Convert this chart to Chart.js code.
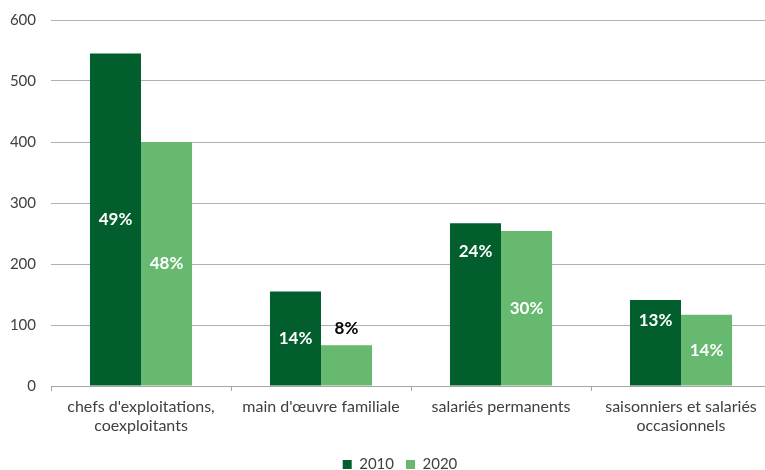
<!DOCTYPE html>
<html>
<head>
<meta charset="utf-8">
<script src="https://cdn.jsdelivr.net/npm/chart.js@4/dist/chart.umd.min.js"></script>
<style>
  html, body { margin: 0; padding: 0; background: #fff; overflow: hidden; }
  #wrap { position: relative; width: 800px; height: 470px; }
</style>
</head>
<body>
<div id="wrap"><canvas id="c"></canvas></div>
<script>
// categories, values and the percent labels shown inside the bars
const categories = [
  ["chefs d'exploitations,", 'coexploitants'],
  "main d'œuvre familiale",
  'salariés permanents',
  ['saisonniers et salariés', 'occasionnels'],
];
const years = ['2010', '2020'];
const values2010 = [545, 155, 267, 141];
const values2020 = [400, 67, 254, 117];
const pct2010 = ['49%', '14%', '24%', '13%'];
const pct2020 = ['48%', '8%', '30%', '14%'];
const yTicks = [0, 100, 200, 300, 400, 500, 600];

const DARK = '#025E2C';
const LIGHT = '#66B96F';
const GRID = '#B0B0B0';
const TEXT = '#404040';
const FONT = "Lato, 'Open Sans', sans-serif";

// percent labels: centred in the bar (with a few hand nudges, as in the original),
// or above it in black when the bar is too short
const barLabels = {
  id: 'barLabels',
  afterDatasetsDraw(chart, args, opts) {
    const { ctx } = chart;
    const sets = [pct2010, pct2020];
    ctx.save();
    ctx.font = 'bold 17px ' + FONT;
    ctx.textAlign = 'center';
    ctx.textBaseline = 'middle';
    chart.data.datasets.forEach((ds, di) => {
      chart.getDatasetMeta(di).data.forEach((bar, i) => {
        const txt = sets[di][i];
        const h = bar.base - bar.y;
        if (h < 50) {
          ctx.fillStyle = '#000';
          ctx.fillText(txt, bar.x, bar.y - 17);
        } else {
          const nudge = (opts.nudge[di] || [])[i] || 0;
          ctx.fillStyle = '#fff';
          ctx.fillText(txt, bar.x, (bar.y + bar.base) / 2 + nudge);
        }
      });
    });
    ctx.restore();
  },
};

new Chart(document.getElementById('c'), {
  type: 'bar',
  data: {
    labels: categories,
    datasets: [
      { label: years[0], data: values2010, backgroundColor: DARK },
      { label: years[1], data: values2020, backgroundColor: LIGHT },
    ],
  },
  options: {
    responsive: true,
    maintainAspectRatio: false,
    animation: false,
    layout: { padding: { top: 20, right: 0, bottom: -12, left: 0 } },
    datasets: { bar: { barPercentage: 1, categoryPercentage: 0.567, borderWidth: 0 } },
    plugins: {
      legend: {
        position: 'bottom',
        labels: {
          color: TEXT,
          font: { family: FONT, size: 15 },
          boxWidth: 9,
          boxHeight: 9,
          padding: 12,
        },
      },
      tooltip: { enabled: false },
      barLabels: { nudge: [[0, 0, -53, -22], [0, 0, 0, 0]] },
    },
    scales: {
      x: {
        grid: { drawOnChartArea: false, drawTicks: true, tickLength: 5, color: '#A6A6A6' },
        border: { display: true, color: '#A6A6A6', width: 1 },
        ticks: {
          color: TEXT,
          font: { family: FONT, size: 16, lineHeight: 1.15 },
          padding: 7,
          maxRotation: 0,
          autoSkip: false,
        },
        afterFit: s => { s.height = 59; },
      },
      y: {
        min: 0,
        max: 600,
        afterBuildTicks: s => { s.ticks = yTicks.map(v => ({ value: v })); },
        // invisible tick marks give the gap between labels and plot
        grid: { color: GRID, drawTicks: true, tickLength: 15, tickColor: 'rgba(0,0,0,0)', lineWidth: 1 },
        border: { display: false },
        ticks: {
          color: TEXT,
          font: { family: FONT, size: 15 },
          padding: 0,
        },
        afterFit: s => { s.width = 51; },
      },
      // empty strip on the right so the plot runs past the visible edge
      yRight: {
        position: 'right',
        grid: { drawOnChartArea: false, drawTicks: false },
        border: { display: false },
        ticks: { display: false },
        afterFit: s => { s.width = 29; },
      },
    },
  },
  plugins: [barLabels],
});
</script>
</body>
</html>
